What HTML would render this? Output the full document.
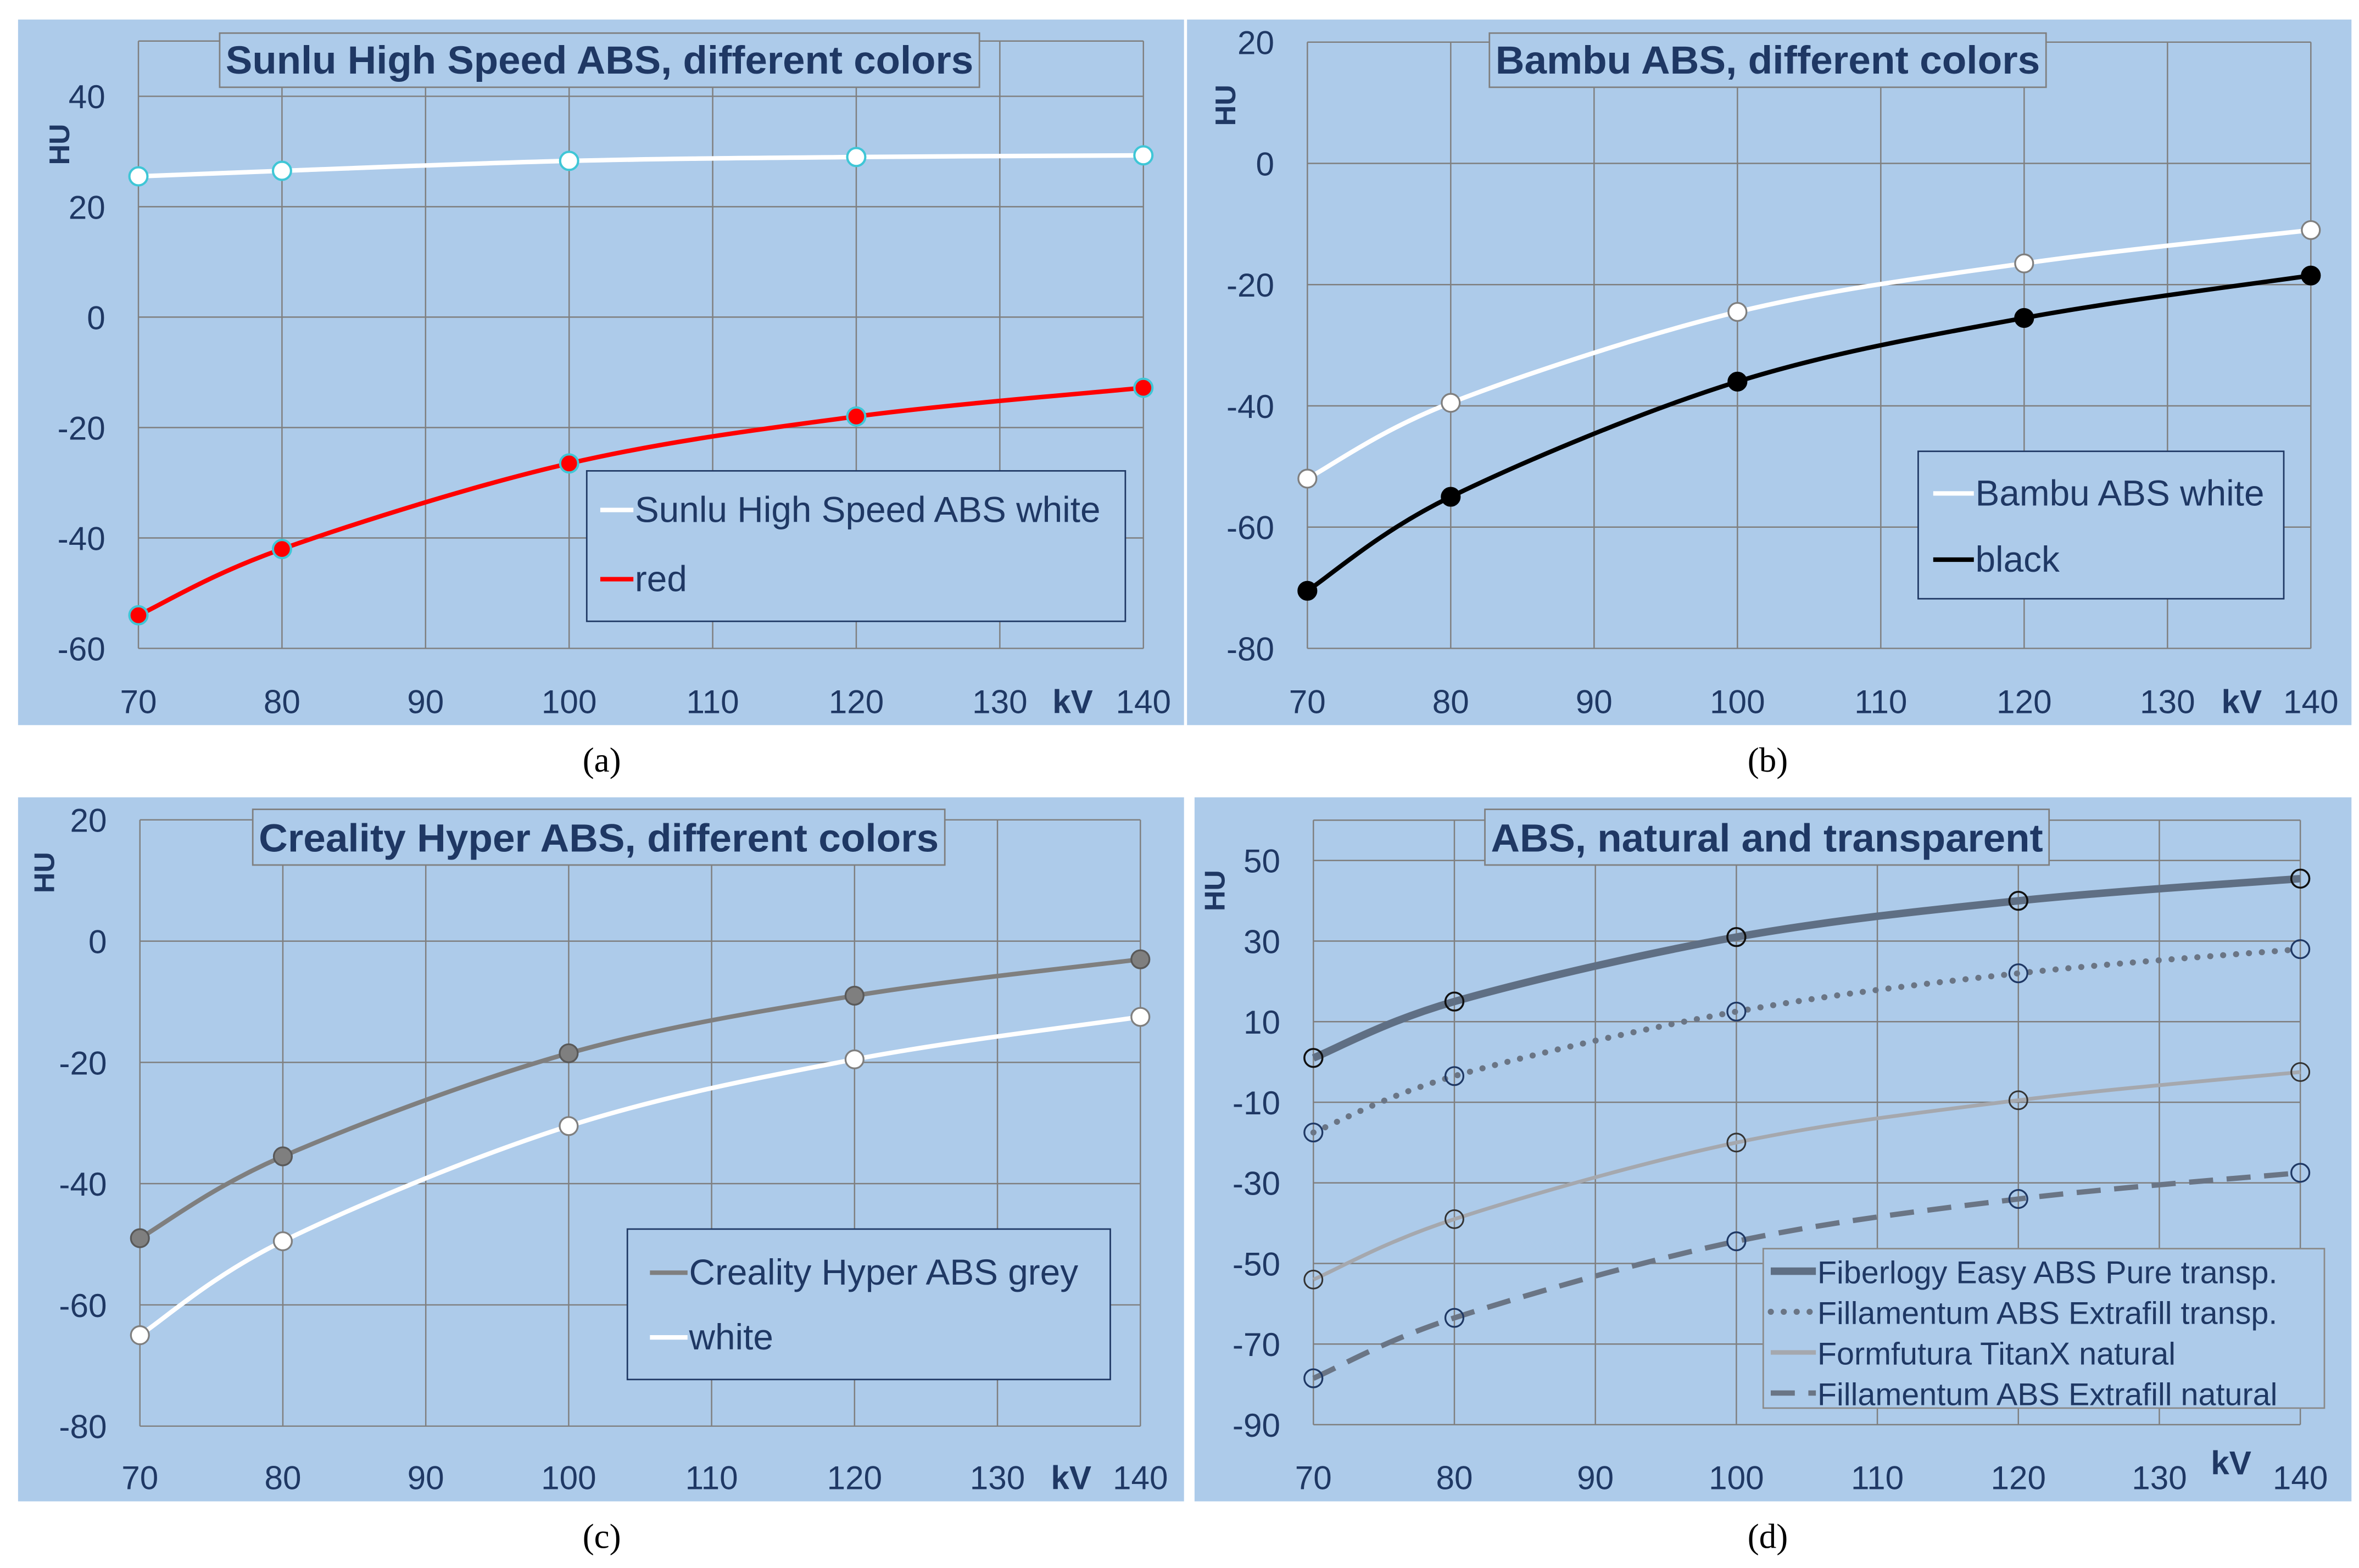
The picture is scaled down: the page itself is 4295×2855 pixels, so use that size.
<!DOCTYPE html>
<html><head><meta charset="utf-8">
<style>
html,body{margin:0;padding:0;background:#fff;}
svg{display:block;}
text{font-family:"Liberation Sans Narrow","Liberation Sans",sans-serif;fill:#1f3864;}
.cap{font-family:"Liberation Serif",serif;fill:#000;}
</style></head>
<body>
<svg id="fig" width="4295" height="2855" viewBox="0 0 1568 1042.3" xmlns="http://www.w3.org/2000/svg"></svg>
<script>
const kv = [70, 80, 100, 120, 140];
const aWhite = [25.5, 26.5, 28.3, 29, 29.3];
const aRed = [-54, -42, -26.5, -18, -12.8];
const bWhite = [-52, -39.5, -24.5, -16.5, -11];
const bBlack = [-70.5, -55, -36, -25.5, -18.5];
const cGrey = [-49, -35.5, -18.5, -9, -3];
const cWhite = [-65, -49.5, -30.5, -19.5, -12.5];
const dFiberlogy = [1, 15, 31, 40, 45.5];
const dFillTransp = [-17.5, -3.5, 12.5, 22, 28];
const dFormfutura = [-54, -39, -20, -9.5, -2.5];
const dFillNatural = [-78.5, -63.5, -44.5, -34, -27.5];
const xTicks = [70, 80, 90, 100, 110, 120, 130, 140];
const aYTicks = [-60, -40, -20, 0, 20, 40];
const bYTicks = [-80, -60, -40, -20, 0, 20];
const dYTicks = [-90, -70, -50, -30, -10, 10, 30, 50];

const NS = "http://www.w3.org/2000/svg";
const svg = document.getElementById('fig');
function mk(tag, attrs, parent, txt){
  const e = document.createElementNS(NS, tag);
  for (const k in attrs) e.setAttribute(k, attrs[k]);
  if (txt !== undefined) e.textContent = txt;
  (parent || svg).appendChild(e);
  return e;
}
function smooth(pts){
  let d = 'M' + pts[0][0] + ',' + pts[0][1];
  for (let i = 0; i < pts.length - 1; i++){
    const p0 = pts[Math.max(0, i-1)], p1 = pts[i], p2 = pts[i+1], p3 = pts[Math.min(pts.length-1, i+2)];
    const t = 0.5/3*2;
    const c1 = [p1[0] + (p2[0]-p0[0])*t/2, p1[1] + (p2[1]-p0[1])*t/2];
    const c2 = [p2[0] - (p3[0]-p1[0])*t/2, p2[1] - (p3[1]-p1[1])*t/2];
    d += ' C' + c1[0] + ',' + c1[1] + ' ' + c2[0] + ',' + c2[1] + ' ' + p2[0] + ',' + p2[1];
  }
  return d;
}

function panel(cfg){
  const g = mk('g', {});
  
  
  const bg = mk('rect', {x: cfg.bg[0], y: cfg.bg[1], width: cfg.bg[2]-cfg.bg[0], height: cfg.bg[3]-cfg.bg[1], fill: '#adcbea'}, g);
  
  
  const X = v => cfg.x0 + (v-70)/70*(cfg.x1-cfg.x0);
  const Y = v => cfg.yA + (v-cfg.vA)/(cfg.vB-cfg.vA)*(cfg.yB-cfg.yA);
  const top = Y(cfg.ymax), bot = Y(cfg.ymin);
  // grid
  xTicks.forEach(t => {
    const l = mk('line', {x1: X(t), x2: X(t), y1: top, y2: bot, stroke: '#7f7f7f', 'stroke-width': 0.9}, g);
    
    
    const lab = mk('text', {x: X(t), y: cfg.xLabY, 'font-size': 22, 'text-anchor': 'middle'}, g, String(t));
    
    
  });
  const hl = [cfg.ymax].concat(cfg.yTicks);
  hl.forEach(t => {
    const l = mk('line', {x1: X(70), x2: X(140), y1: Y(t), y2: Y(t), stroke: '#7f7f7f', 'stroke-width': 0.9}, g);
    
    
  });
  cfg.yTicks.forEach(t => {
    const lab = mk('text', {x: X(70) - 22, y: Y(t) + 8, 'font-size': 22, 'text-anchor': 'end'}, g, String(t));
    
    
  });
  const kvl = mk('text', {x: cfg.kv[0], y: cfg.kv[1], 'font-size': 22, 'font-weight': 'bold', 'text-anchor': 'middle'}, g, 'kV');
  
  
  const hu = mk('text', {x: 0, y: 0, 'font-size': 19, 'font-weight': 'bold', 'text-anchor': 'middle', transform: 'translate(' + cfg.hu[0] + ',' + cfg.hu[1] + ') rotate(-90)'}, g, 'HU');
  
  
  // title
  const tb = mk('rect', {x: cfg.title[0], y: cfg.title[1], width: cfg.title[2]-cfg.title[0], height: cfg.title[3]-cfg.title[1], fill: '#adcbea', stroke: '#7f7f7f', 'stroke-width': 1}, g);
  
  
  const tt = mk('text', {x: (cfg.title[0]+cfg.title[2])/2, y: cfg.title[3]-9, 'font-size': 26, 'font-weight': 'bold', 'text-anchor': 'middle', textLength: cfg.title[2]-cfg.title[0]-8, lengthAdjust: 'spacingAndGlyphs'}, g, cfg.titleText);
  
  
  // series
  cfg.series.forEach(s => {
    const pts = kv.map((k, i) => [X(k), Y(s.vals[i])]);
    const p = mk('path', {d: smooth(pts), fill: 'none', stroke: s.color, 'stroke-width': s.w, 'stroke-dasharray': s.dash || 'none', 'stroke-linecap': s.cap || 'butt'}, g);
    
    
    pts.forEach(pt => {
      const c = mk('circle', {cx: pt[0], cy: pt[1], r: s.r || 6, fill: s.mfill, stroke: s.mstroke, 'stroke-width': s.msw || 1.2}, g);
      
      
    });
  });
  // legend
  const L = cfg.legend;
  const lb = mk('rect', {x: L.box[0], y: L.box[1], width: L.box[2]-L.box[0], height: L.box[3]-L.box[1], fill: '#adcbea', stroke: L.border, 'stroke-width': 1}, g);
  
  
  cfg.series.forEach((s, i) => {
    const ly = L.y0 + i*L.dy;
    const ll = mk('line', {x1: L.lx, x2: L.lx + L.lw, y1: ly, y2: ly, stroke: s.color, 'stroke-width': Math.max(3, s.w), 'stroke-dasharray': s.dash || 'none', 'stroke-linecap': s.cap || 'butt'}, g);
    
    
    const lt = mk('text', {x: L.lx + L.lw + 1, y: ly + 8, 'font-size': L.fs}, g, s.label);
    
    
  });
  const cap = mk('text', {x: cfg.cap[0], y: cfg.cap[1], 'font-size': 23, 'text-anchor': 'middle', class: 'cap'}, g, cfg.capText);
  
  
}

panel({name: 'panel-a', bg: [12, 13, 787, 482], x0: 92, x1: 760, vA: 40, yA: 64, vB: -60, yB: 431, ymax: 50, ymin: -60, yTicks: aYTicks,
  xLabY: 474, kv: [713, 474], hu: [46, 96], title: [146, 22, 651, 58], titleText: 'Sunlu High Speed ABS, different colors',
  cap: [400, 513], capText: '(a)',
  legend: {box: [390, 313, 748, 413], border: '#1f3864', lx: 399, lw: 22, y0: 339, dy: 46, fs: 24},
  series: [
    {id: 'sunlu-white', label: 'Sunlu High Speed ABS white', vals: aWhite, color: '#ffffff', w: 3, mfill: '#ffffff', mstroke: '#3fc6d6', msw: 1.5},
    {id: 'sunlu-red', label: 'red', vals: aRed, color: '#ff0000', w: 3, mfill: '#ff0000', mstroke: '#3fc6d6', msw: 1.5}
  ]});
panel({name: 'panel-b', bg: [789, 13, 1563, 482], x0: 869, x1: 1536, vA: 20, yA: 28, vB: -80, yB: 431, ymax: 20, ymin: -80, yTicks: bYTicks,
  xLabY: 474, kv: [1490, 474], hu: [821, 70], title: [990, 22, 1360, 58], titleText: 'Bambu ABS, different colors',
  cap: [1175, 513], capText: '(b)',
  legend: {box: [1275, 300, 1518, 398], border: '#1f3864', lx: 1285, lw: 27, y0: 328, dy: 44, fs: 24},
  series: [
    {id: 'bambu-white', label: 'Bambu ABS white', vals: bWhite, color: '#ffffff', w: 3, mfill: '#ffffff', mstroke: '#7f7f7f'},
    {id: 'bambu-black', label: 'black', vals: bBlack, color: '#000000', w: 3, mfill: '#000000', mstroke: '#000000'}
  ]});
panel({name: 'panel-c', bg: [12, 530, 787, 998], x0: 93, x1: 758, vA: 20, yA: 545, vB: -80, yB: 948, ymax: 20, ymin: -80, yTicks: bYTicks,
  xLabY: 990, kv: [712, 990], hu: [36, 580], title: [168, 538, 628, 575], titleText: 'Creality Hyper ABS, different colors',
  cap: [400, 1029], capText: '(c)',
  legend: {box: [417, 817, 738, 917], border: '#1f3864', lx: 432, lw: 25, y0: 846, dy: 43, fs: 24},
  series: [
    {id: 'creality-grey', label: 'Creality Hyper ABS grey', vals: cGrey, color: '#7f7f7f', w: 3, mfill: '#7f7f7f', mstroke: '#595959'},
    {id: 'creality-white', label: 'white', vals: cWhite, color: '#ffffff', w: 3, mfill: '#ffffff', mstroke: '#7f7f7f'}
  ]});
panel({name: 'panel-d', bg: [794, 530, 1563, 998], x0: 873, x1: 1529, vA: 50, yA: 572, vB: -90, yB: 947, ymax: 60, ymin: -90, yTicks: dYTicks,
  xLabY: 990, kv: [1483, 980], hu: [814, 592], title: [987, 538, 1362, 575], titleText: 'ABS, natural and transparent',
  cap: [1175, 1029], capText: '(d)',
  legend: {box: [1172, 830, 1545, 936], border: '#8a8a8a', lx: 1177, lw: 30, y0: 845, dy: 27, fs: 21},
  series: [
    {id: 'fiberlogy', label: 'Fiberlogy Easy ABS Pure transp.', vals: dFiberlogy, color: '#5f6f84', w: 5, mfill: 'none', mstroke: '#111111', msw: 1.3},
    {id: 'fillamentum-transp', label: 'Fillamentum ABS Extrafill transp.', vals: dFillTransp, color: '#6a7585', w: 4, dash: '0.1 8.5', cap: 'round', mfill: 'none', mstroke: '#1f3864', msw: 1.2},
    {id: 'formfutura', label: 'Formfutura TitanX natural', vals: dFormfutura, color: '#a5a8ae', w: 2.5, mfill: 'none', mstroke: '#333333', msw: 1.1},
    {id: 'fillamentum-natural', label: 'Fillamentum ABS Extrafill natural', vals: dFillNatural, color: '#6a7585', w: 3.5, dash: '16 9', mfill: 'none', mstroke: '#1f3864', msw: 1.2}
  ]});
</script>
</body></html>
